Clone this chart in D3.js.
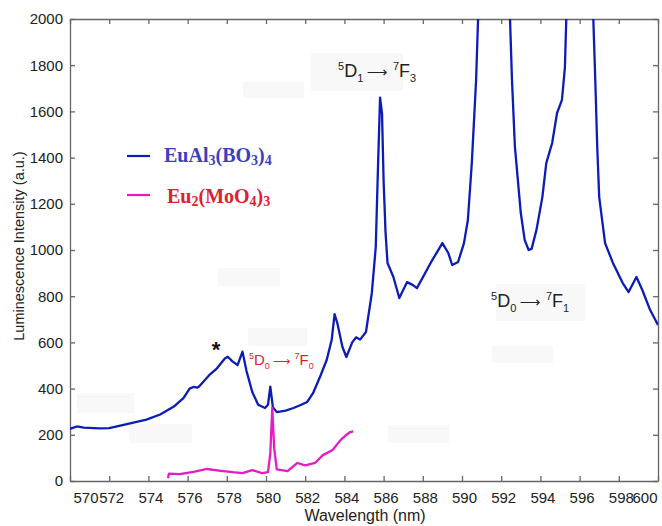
<!DOCTYPE html>
<meta charset="utf-8">
<style>
body { margin: 0; background: #fff; }
.axis path, .axis line { stroke: #666; stroke-width: 1.3px; }
.axis text { font: 15px "Liberation Sans", Arial, sans-serif; fill: #222; }
.title { font-family: "Liberation Sans", Arial, sans-serif; fill: #222; }
.spec { fill: none; stroke-width: 2.3px; stroke-linejoin: round; }
</style>
<body>
<script src="https://d3js.org/d3.v7.min.js"></script>
<script>

// tick values
var xTicks = [570, 572, 574, 576, 578, 580, 582, 584, 586, 588, 590, 592, 594, 596, 598, 600];
var yTicks = [0, 200, 400, 600, 800, 1000, 1200, 1400, 1600, 1800, 2000];

// EuAl3(BO3)4 spectrum, [wavelength nm, intensity]
var euAlB = [
  [570.0, 226], [570.35, 236], [570.7, 231], [571.5, 228], [572.0, 229],
  [572.9, 246], [573.9, 266], [574.6, 288], [575.3, 322], [575.8, 360],
  [576.1, 400], [576.3, 407], [576.5, 404], [576.6, 410], [577.1, 458],
  [577.5, 488], [577.9, 530], [578.05, 538], [578.3, 517], [578.55, 502],
  [578.8, 560], [579.0, 478], [579.3, 385], [579.6, 330], [579.95, 316],
  [580.1, 330], [580.22, 408], [580.35, 320], [580.55, 298], [581.0, 305],
  [581.4, 316], [581.8, 330], [582.1, 342], [582.4, 380], [582.8, 460],
  [583.1, 525], [583.35, 610], [583.5, 722], [583.65, 680], [583.9, 580],
  [584.1, 537], [584.4, 600], [584.6, 622], [584.8, 612], [585.1, 645],
  [585.4, 814], [585.6, 1013], [585.72, 1376], [585.82, 1660], [585.92, 1590],
  [586.0, 1300], [586.1, 1074], [586.2, 944], [586.5, 883], [586.8, 792],
  [587.2, 861], [587.5, 848], [587.7, 835], [588.4, 944], [589.0, 1030],
  [589.3, 987], [589.5, 935], [589.8, 948], [590.1, 1030], [590.3, 1130],
  [590.5, 1376], [590.72, 1736], [590.82, 2000], [590.95, 2200], [592.3, 2200],
  [592.45, 2000], [592.55, 1736], [592.7, 1446], [593.0, 1160], [593.2, 1043],
  [593.4, 1000], [593.55, 1005], [593.8, 1087], [594.1, 1229], [594.3, 1376],
  [594.6, 1463], [594.85, 1593], [595.1, 1650], [595.25, 1790], [595.32, 2000],
  [595.45, 2200], [596.55, 2200], [596.7, 2000], [596.8, 1736], [596.9, 1446],
  [597.0, 1229], [597.3, 1030], [597.7, 944], [598.2, 857], [598.5, 818],
  [598.9, 883], [599.2, 827], [599.6, 740], [600.0, 675]
];

// Eu2(MoO4)3 spectrum
var euMo = [
  [575.0, 12], [575.05, 32], [575.6, 30], [576.3, 40], [577.0, 52],
  [577.7, 44], [578.3, 38], [578.8, 34], [579.3, 47], [579.8, 34],
  [580.1, 38], [580.22, 120], [580.32, 316], [580.42, 140], [580.55, 50],
  [581.1, 43], [581.6, 78], [582.0, 68], [582.5, 78], [582.9, 112],
  [583.4, 134], [583.8, 177], [584.1, 200], [584.3, 212], [584.45, 215]
];

// faint grey patches left in the original figure [x, y, w, h] in px
var patches = [
  [243, 82, 61, 16], [311, 53, 92, 38], [218, 268, 62, 18], [248, 328, 59, 18],
  [77, 393, 57, 20], [129, 424, 63, 19], [388, 425, 61, 18], [492, 346, 61, 17],
  [496, 284, 89, 37]
];

var margin = {top: 19, right: 4, bottom: 45, left: 70},
    width = 662 - margin.left - margin.right,
    height = 526 - margin.top - margin.bottom;

var x = d3.scaleLinear().domain([570, 600]).range([0, width]);
var y = d3.scaleLinear().domain([0, 2000]).range([height, 0]);

var svg = d3.select("body").append("svg")
    .attr("width", 662)
    .attr("height", 526);

svg.selectAll("rect.patch")
    .data(patches)
  .enter().append("rect")
    .attr("class", "patch")
    .attr("x", function(d) { return d[0]; })
    .attr("y", function(d) { return d[1]; })
    .attr("width", function(d) { return d[2]; })
    .attr("height", function(d) { return d[3]; })
    .style("fill", "#f8f8f8");

var g = svg.append("g")
    .attr("transform", "translate(" + margin.left + "," + margin.top + ")");

g.append("clipPath")
    .attr("id", "clip")
  .append("rect")
    .attr("width", width)
    .attr("height", height);

// axes, MATLAB style box with inward ticks
var xAxis = g.append("g")
    .attr("class", "axis")
    .attr("transform", "translate(0," + height + ")")
    .call(d3.axisBottom(x).tickValues(xTicks).tickFormat(d3.format("d"))
      .tickSizeInner(-5).tickSizeOuter(0).tickPadding(11));

xAxis.selectAll(".tick text")
    .attr("dx", 2)
    .filter(function(d) { return d === 570; })
    .attr("text-anchor", "start").attr("dx", 3);
xAxis.selectAll(".tick text")
    .filter(function(d) { return d === 600; })
    .attr("text-anchor", "end").attr("dx", -1);

g.append("g")
    .attr("class", "axis")
    .call(d3.axisTop(x).tickValues(xTicks).tickFormat("")
      .tickSizeInner(-5).tickSizeOuter(0));

g.append("g")
    .attr("class", "axis")
    .call(d3.axisLeft(y).tickValues(yTicks).tickFormat(d3.format("d"))
      .tickSizeInner(-5).tickSizeOuter(0).tickPadding(7));

g.append("g")
    .attr("class", "axis")
    .attr("transform", "translate(" + width + ",0)")
    .call(d3.axisRight(y).tickValues(yTicks).tickFormat("")
      .tickSizeInner(-5).tickSizeOuter(0));

// spectra
var line = d3.line()
    .x(function(d) { return x(d[0]); })
    .y(function(d) { return y(d[1]); });

g.append("path")
    .datum(euAlB)
    .attr("class", "spec")
    .attr("clip-path", "url(#clip)")
    .style("stroke", "#0c1cb6")
    .attr("d", line);

g.append("path")
    .datum(euMo)
    .attr("class", "spec")
    .attr("clip-path", "url(#clip)")
    .style("stroke", "#e41cc6")
    .attr("d", line);

// axis titles
svg.append("text")
    .attr("class", "title")
    .attr("x", 365)
    .attr("y", 521)
    .attr("text-anchor", "middle")
    .style("font-size", "16px")
    .text("Wavelength (nm)");

svg.append("text")
    .attr("class", "title")
    .attr("transform", "translate(24,246) rotate(-90)")
    .attr("text-anchor", "middle")
    .style("font-size", "14.5px")
    .text("Luminescence Intensity (a.u.)");

// legend
var legend = [
  {name: [["Eu", 0], ["Al", 0], ["3", 1], ["(BO", 0], ["3", 1], [")", 0], ["4", 1]], line: "#0c1cb6", text: "#3a3fc0", ly: 156, tx: 164, ty: 162},
  {name: [["Eu", 0], ["2", 1], ["(MoO", 0], ["4", 1], [")", 0], ["3", 1]], line: "#e41cc6", text: "#e2202c", ty: 203, ly: 195, tx: 167}
];

legend.forEach(function(l) {
  svg.append("line")
      .attr("x1", 127).attr("x2", 150)
      .attr("y1", l.ly).attr("y2", l.ly)
      .style("stroke", l.line)
      .style("stroke-width", 2.2);
  var t = svg.append("text")
      .attr("x", l.tx)
      .attr("y", l.ty)
      .style("font-family", "'Liberation Serif', 'Times New Roman', serif")
      .style("font-weight", "bold")
      .style("font-size", "20px")
      .style("fill", l.text);
  var prev = 0;
  l.name.forEach(function(p) {
    t.append("tspan")
        .attr("dy", p[1] ? 3 : (prev ? -3 : 0))
        .style("font-size", p[1] ? "14px" : "20px")
        .text(p[0]);
    prev = p[1];
  });
});

// transition labels, TeX-like super/subscripts
function transition(x0, y0, size, color, a, b, c, d) {
  var small = Math.round(size * 0.6);
  var t = svg.append("text")
      .attr("x", x0)
      .attr("y", y0)
      .style("font-family", "'Liberation Sans', Arial, sans-serif")
      .style("font-size", size + "px")
      .style("fill", color);
  var up = -size * 0.4, down = size * 0.28;
  t.append("tspan").attr("dy", up).style("font-size", small + "px").text(a);
  t.append("tspan").attr("dy", -up).text("D");
  t.append("tspan").attr("dy", down).style("font-size", small + "px").text(b);
  t.append("tspan").attr("dy", -down).attr("dx", size * 0.2)
      .style("font-family", "'DejaVu Sans', sans-serif")
      .style("font-size", (size * 0.8) + "px")
      .text("\u27F6");
  t.append("tspan").attr("dy", up).attr("dx", size * 0.3).style("font-size", small + "px").text(c);
  t.append("tspan").attr("dy", -up).text("F");
  t.append("tspan").attr("dy", down).style("font-size", small + "px").text(d);
}

transition(338, 77, 18, "#222", "5", "1", "7", "3");
transition(491, 307, 18, "#222", "5", "0", "7", "1");
transition(249, 365, 15, "#e2202c", "5", "0", "7", "0");

// asterisk marking the shoulder
svg.append("text")
    .attr("x", 216)
    .attr("y", 357)
    .attr("text-anchor", "middle")
    .style("font-family", "'Liberation Sans', Arial, sans-serif")
    .style("font-weight", "bold")
    .style("font-size", "22px")
    .style("fill", "#111")
    .text("*");

</script>
</body>
